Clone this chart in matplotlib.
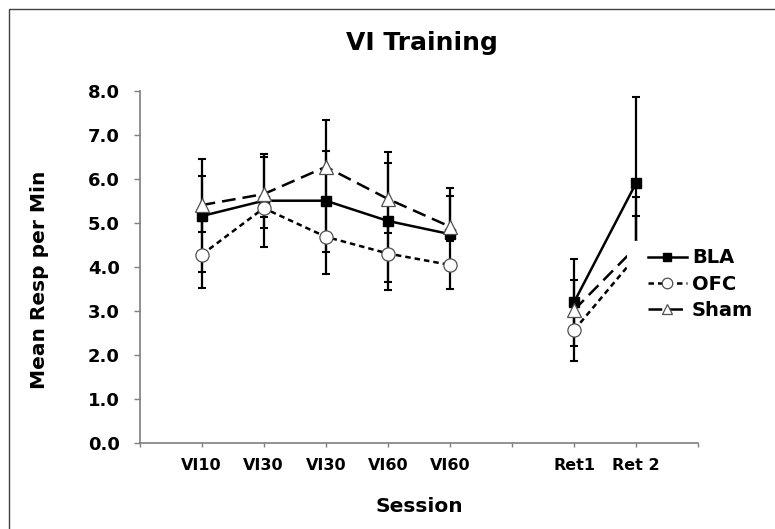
import numpy as np
import matplotlib
matplotlib.use("Agg")
import matplotlib.pyplot as plt
from matplotlib.patches import Rectangle

nan = np.nan

# category slots as in the original sheet (blank slots leave gaps)
categories = ["", "VI10", "VI30", "VI30", "VI60", "VI60", "", "Ret1", "Ret 2", ""]

bla = [nan, 5.15, 5.50, 5.50, 5.04, 4.74, nan, 3.20, 5.91, nan]
ofc = [nan, 4.27, 5.33, 4.68, 4.30, 4.04, nan, 2.56, 4.24, nan]
sham = [nan, 5.40, 5.65, 6.27, 5.54, 4.91, nan, 3.02, 4.45, nan]

# error bars (lower, upper)
bla_lo = [0, 1.26, 1.06, 1.16, 1.39, 0.12, 0, 1.00, 1.95, 0]
bla_hi = [0, 0.92, 1.00, 1.14, 1.31, 0.87, 0, 0.97, 1.95, 0]
ofc_lo = [0, 0.76, 0.20, 0.85, 0.83, 0.55, 0, 0.70, 0.92, 0]
ofc_hi = [0, 0.76, 0.20, 0.85, 0.80, 0.55, 0, 0.70, 0.92, 0]
sham_lo = [0, 0.62, 0.78, 0.77, 0.78, 0.17, 0, 0.45, 1.13, 0]
sham_hi = [0, 1.05, 0.91, 1.06, 1.07, 0.89, 0, 0.68, 1.13, 0]

W, H = 775, 529
fig = plt.figure(figsize=(W / 100, H / 100), dpi=100)
ax = fig.add_axes([139.5 / W, 1 - 442.7 / H, 558.9 / W, 352.0 / H])

x = np.arange(len(categories))
axis_grey = "#7f7f7f"

series = [
    ("BLA", bla, bla_lo, bla_hi, dict(linestyle="-", marker="s", markersize=7.5,
                                       markerfacecolor="black", markeredgecolor="black")),
    ("OFC", ofc, ofc_lo, ofc_hi, dict(linestyle=(0, (2.2, 1.6)), marker="o", markersize=9.5,
                                       markerfacecolor="white", markeredgecolor="#505050",
                                       markeredgewidth=0.9)),
    ("Sham", sham, sham_lo, sham_hi, dict(linestyle=(0, (5.5, 2.8)), marker="^", markersize=9.5,
                                           markerfacecolor="white", markeredgecolor="#505050",
                                           markeredgewidth=0.9)),
]

for name, vals, lo, hi, style in series:
    ax.errorbar(x, vals, yerr=[lo, hi], fmt="none", ecolor="black", elinewidth=1.6,
                capsize=3.2, capthick=1.5, zorder=2)

handles = []
for name, vals, lo, hi, style in series:
    h, = ax.plot(x, vals, color="black", linewidth=1.8, label=name, zorder=3, **style)
    handles.append(h)

# white legend box sitting over the retention points
ax.add_patch(Rectangle((7.85, 2.65), 2.6, 1.93, facecolor="white", edgecolor="none",
                       zorder=4, clip_on=False))

leg = fig.legend(handles=handles, loc="center left", bbox_to_anchor=(648 / W, 1 - 284.3 / H),
                 frameon=False, borderpad=0, borderaxespad=0, handlelength=2.0,
                 handletextpad=0.25, labelspacing=0.38, numpoints=1, markerscale=0.8,
                 prop=dict(weight="bold", size=14))
leg.set_zorder(5)

ax.set_xlim(0, 9)
ax.set_ylim(0, 8)
ax.set_xticks(x)
ax.set_xticklabels(categories)
ax.set_yticks(np.arange(0, 9))
ax.set_yticklabels(["%.1f" % v for v in np.arange(0, 9)])

for side in ("top", "right"):
    ax.spines[side].set_visible(False)
for side in ("left", "bottom"):
    ax.spines[side].set_color(axis_grey)
    ax.spines[side].set_linewidth(1.2)

ax.tick_params(axis="y", direction="out", length=4.3, width=1, color=axis_grey,
               pad=10, labelsize=13)
ax.tick_params(axis="x", direction="out", length=3, width=1, color=axis_grey,
               pad=8, labelsize=11.5)
for lab in ax.get_xticklabels() + ax.get_yticklabels():
    lab.set_fontweight("bold")

fig.text(422 / W, 1 - 43 / H, "VI Training", ha="center", va="center",
         fontsize=18, fontweight="bold")
fig.text(419 / W, 1 - 506 / H, "Session", ha="center", va="center",
         fontsize=14.5, fontweight="bold")
fig.text(40 / W, 1 - 280 / H, "Mean Resp per Min", ha="center", va="center",
         rotation=90, fontsize=14.5, fontweight="bold")

# outer chart border
fig.patches.append(Rectangle((9 / W, -0.05), 1.2, 1 - 9 / H + 0.05, transform=fig.transFigure,
                             fill=False, edgecolor="#404040", linewidth=1.0))

fig.savefig("out.png", dpi=100)
